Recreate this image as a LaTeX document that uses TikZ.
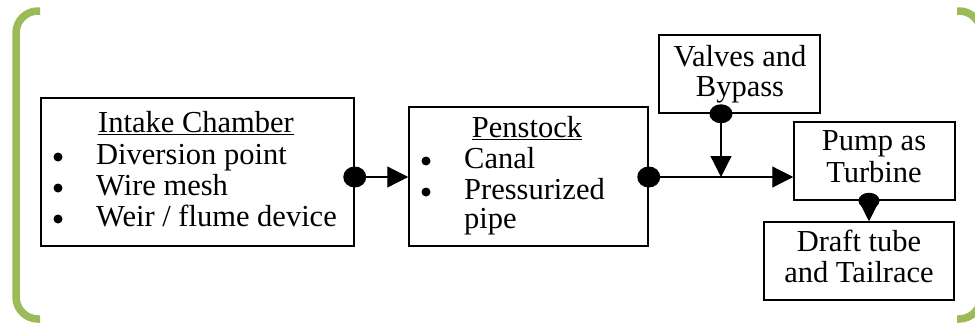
\documentclass[tikz,border=0pt]{standalone}
\usepackage{fontspec}
\setmainfont{Liberation Serif}
\usetikzlibrary{arrows.meta}
\definecolor{brgreen}{HTML}{9BBB59}
\begin{document}
\begin{tikzpicture}[x=1pt,y=-1pt,
  box/.style={draw,line width=1.5pt,inner sep=0pt},
  txt/.style={inner sep=0pt,anchor=base west,font=\fontsize{30.5}{30}\selectfont},
  ctxt/.style={inner sep=0pt,anchor=base,font=\fontsize{30.5}{30}\selectfont},
  bul/.style={circle,fill=black,inner sep=0pt,minimum size=9pt},
  conn/.style={line width=1.2pt},
  tip/.style={-{Triangle[length=21pt,width=21pt]}},
  dot/.style={fill=black}]
\useasboundingbox (0,0) rectangle (975,327);
\clip (0,0) rectangle (975,327);
% bracket
\draw[brgreen,line width=7.5pt,rounded corners=22pt] (40,11) -- (16,11) -- (16,319) -- (40,319);
\draw[brgreen,line width=7.5pt,rounded corners=22pt] (957,11) -- (981,11) -- (981,319) -- (957,319);
% boxes
\node[box,minimum width=313pt,minimum height=148pt] (intake) at (197.5,172) {};
\node[box,minimum width=239pt,minimum height=139pt] (pen) at (528.5,176.5) {};
\node[box,minimum width=161pt,minimum height=78pt] (valves) at (739.5,74) {};
\node[box,minimum width=161pt,minimum height=78pt] (pump) at (874.5,161) {};
\node[box,minimum width=190pt,minimum height=78pt] (draft) at (859,261) {};
% texts
\node[ctxt] (t1) at (196,132) {\underline{Intake Chamber}};
\node[bul] (b11) at (58,157) {};
\node[bul] (b12) at (58,188) {};
\node[bul] (b13) at (58,219) {};
\node[txt] (t11) at (96,164) {Diversion point};
\node[txt] (t12) at (96,195) {Wire mesh};
\node[txt] (t13) at (96,226) {Weir / flume device};
\node[ctxt] (t2) at (527,137) {\underline{Penstock}};
\node[bul] (b21) at (426,161) {};
\node[bul] (b22) at (426,192) {};
\node[txt] (t21) at (464,168) {Canal};
\node[txt] (t22) at (464,199) {Pressurized};
\node[txt] (t23) at (464,228) {pipe};
\node[ctxt] (t31) at (740,66) {Valves and};
\node[ctxt] (t32) at (740,96) {Bypass};
\node[ctxt] (t41) at (874,150) {Pump as};
\node[ctxt] (t42) at (874,182) {Turbine};
\node[ctxt] (t51) at (859,251) {Draft tube};
\node[ctxt] (t52) at (859,282) {and Tailrace};
% connectors
\coordinate (d1) at (intake.east |- 0,177);
\coordinate (d2) at (pen.east |- 0,177);
\coordinate (d3) at (valves.south -| 721,0);
\coordinate (j) at (721,177);
\coordinate (d4) at (pump.south -| 869,0);
\draw[conn,tip] (d1) -- (d1 -| pen.west);
\draw[conn,tip] (d2) -- (d2 -| pump.west);
\draw[conn,tip] (d3) -- (j);
\draw[conn,tip] (d4) -- (d4 |- draft.north);
\fill[dot] (d1) ellipse[x radius=11.5,y radius=10.5];
\fill[dot] (d2) ellipse[x radius=11.5,y radius=10.5];
\fill[dot] (d3) ellipse[x radius=11.5,y radius=9.5];
\fill[dot] (d4) ellipse[x radius=10.5,y radius=8];
\end{tikzpicture}
\end{document}
